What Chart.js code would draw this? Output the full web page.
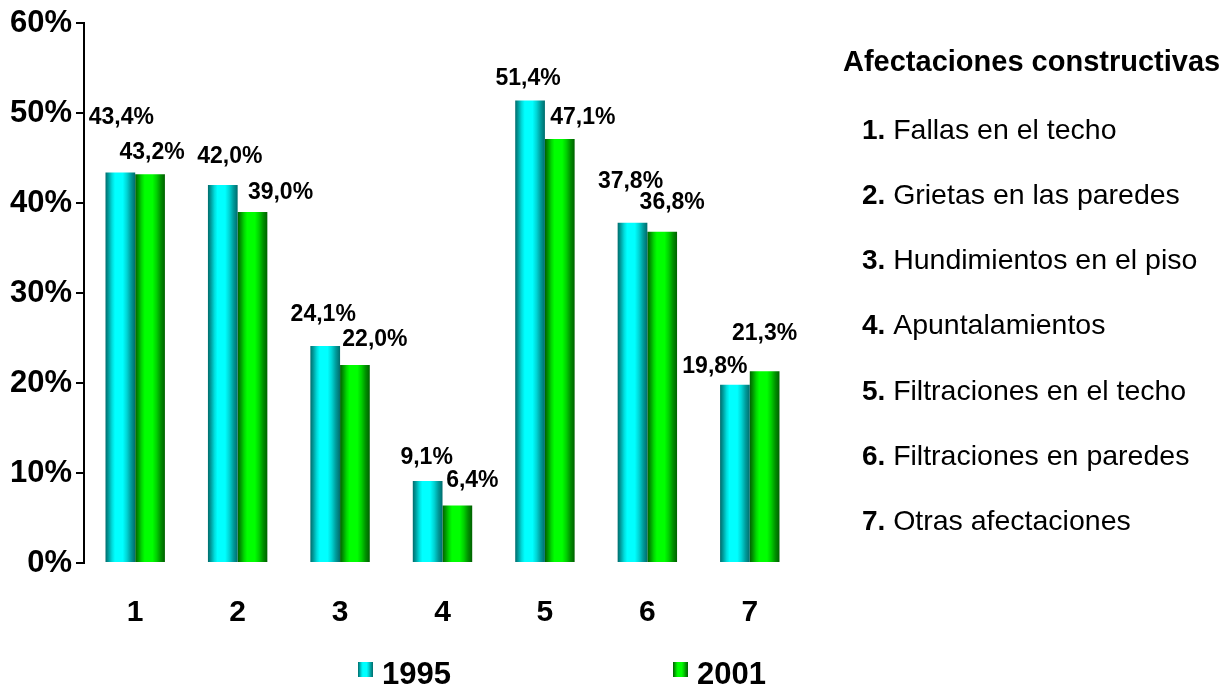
<!DOCTYPE html>
<html lang="es">
<head>
<meta charset="utf-8">
<title>Afectaciones constructivas 1995 - 2001</title>
<script src="https://cdn.jsdelivr.net/npm/chart.js@4.4.1/dist/chart.umd.min.js"></script>
<style>
  html, body { margin: 0; padding: 0; background: #fff; }
  #wrap { width: 1230px; height: 687px; }
</style>
</head>
<body>
<div id="wrap"><canvas id="chart" width="1230" height="687"></canvas></div>
<script>
// Chart data
const categories = ['1', '2', '3', '4', '5', '6', '7'];
const categoryNames = [
    'Fallas en el techo',
    'Grietas en las paredes',
    'Hundimientos en el piso',
    'Apuntalamientos',
    'Filtraciones en el techo',
    'Filtraciones en paredes',
    'Otras afectaciones'
];
const seriesNames = ['1995', '2001'];
const values1995 = [43.4, 42.0, 24.1, 9.1, 51.4, 37.8, 19.8];
const values2001 = [43.2, 39.0, 22.0, 6.4, 47.1, 36.8, 21.3];
const yTicks = [0, 10, 20, 30, 40, 50, 60];
const listTitle = 'Afectaciones constructivas';

const FONT = '"Liberation Sans", Arial, Helvetica, sans-serif';
const CAT_PCT = 0.58;

// Colour stops for the "cylinder" look of each series
const gradientStops = [
    [[0, '#006c6c'], [0.1, '#009c9c'], [0.22, '#00dcdc'], [0.32, '#00ffff'], [0.58, '#00ffff'], [0.72, '#00d4d4'], [0.86, '#009a9a'], [1, '#006c6c']],
    [[0, '#006000'], [0.1, '#009400'], [0.22, '#00d800'], [0.32, '#00ff00'], [0.58, '#00ff00'], [0.72, '#00d000'], [0.86, '#009000'], [1, '#006000']]
];
const flatColors = ['#00e0e0', '#00e000'];

// Label nudges (dx, dy from the top centre of each bar)
const labelNudges = [
    [[1, -55], [7, -28], [-2, -31], [-1, -23], [-2, -22], [-2, -41], [-20, -18]],
    [[2, -22], [28, -19], [20, -25], [15, -25], [23, -21], [10, -29], [0, -38]]
];

const makeGradient = (ctx2d, x0, x1, series) => {
    const g = ctx2d.createLinearGradient(x0, 0, x1, 0);
    gradientStops[series].forEach(([p, c]) => g.addColorStop(p, c));
    return g;
};

// Gradient across the width of one bar, computed from the category scale
const barGradient = (context, series) => {
    const chart = context.chart;
    const xs = chart.scales.x;
    if (context.type !== 'data' || !xs || !chart.chartArea) return flatColors[series];
    const c = xs.getPixelForValue(context.dataIndex);
    const half = (xs.width / categories.length) * CAT_PCT / 2;
    const x0 = series === 0 ? c - half : c;
    return makeGradient(chart.ctx, x0, x0 + half, series);
};

const fmt = v => v.toFixed(1).replace('.', ',') + '%';

// Value labels above the bars
const valueLabels = {
    id: 'valueLabels',
    afterDatasetsDraw(chart) {
        const ctx = chart.ctx;
        ctx.save();
        ctx.font = `bold 23px ${FONT}`;
        ctx.fillStyle = '#000';
        ctx.textAlign = 'center';
        ctx.textBaseline = 'middle';
        chart.data.datasets.forEach((ds, i) => {
            chart.getDatasetMeta(i).data.forEach((el, j) => {
                const [dx, dy] = labelNudges[i][j];
                ctx.fillText(fmt(ds.data[j]), el.x + dx, el.y + dy);
            });
        });
        ctx.restore();
    }
};

// Numbered list on the right and series legend at the bottom
const sideText = {
    id: 'sideText',
    afterDraw(chart) {
        const ctx = chart.ctx;
        ctx.save();
        ctx.fillStyle = '#000';
        ctx.textBaseline = 'middle';
        ctx.textAlign = 'left';

        ctx.font = `bold 29px ${FONT}`;
        ctx.fillText(listTitle, 843, 63);

        categoryNames.forEach((name, i) => {
            const y = 131 + i * 65.2;
            const num = categories[i] + '. ';
            ctx.font = `bold 28px ${FONT}`;
            ctx.fillText(num, 862, y);
            const w = ctx.measureText(num).width;
            ctx.font = `28.5px ${FONT}`;
            ctx.fillText(name, 862 + w, y);
        });

        const legendX = [358, 673];
        seriesNames.forEach((name, i) => {
            const x = legendX[i];
            ctx.fillStyle = makeGradient(ctx, x, x + 15, i);
            ctx.fillRect(x, 662, 15, 15);
            ctx.fillStyle = '#000';
            ctx.font = `bold 31px ${FONT}`;
            ctx.fillText(name, x + 24, 675);
        });
        ctx.restore();
    }
};

const setup = () => {
    const ctx = document.getElementById('chart').getContext('2d');
    new Chart(ctx, {
        type: 'bar',
        data: {
            labels: categories,
            datasets: [
                {
                    label: seriesNames[0],
                    data: values1995,
                    backgroundColor: c => barGradient(c, 0),
                    categoryPercentage: CAT_PCT,
                    barPercentage: 1.0,
                    borderWidth: 0
                },
                {
                    label: seriesNames[1],
                    data: values2001,
                    backgroundColor: c => barGradient(c, 1),
                    categoryPercentage: CAT_PCT,
                    barPercentage: 1.0,
                    borderWidth: 0
                }
            ]
        },
        options: {
            responsive: false,
            animation: false,
            layout: { padding: { top: 23, right: 429, left: 0, bottom: 0 } },
            plugins: {
                legend: { display: false },
                tooltip: { enabled: false }
            },
            scales: {
                x: {
                    afterFit: s => { s.height = 124; },
                    border: { display: false },
                    grid: { display: false, drawTicks: false },
                    ticks: {
                        padding: 32,
                        color: '#000',
                        font: { family: FONT, size: 30, weight: 'bold' }
                    }
                },
                y: {
                    min: 0,
                    max: 60,
                    afterFit: s => { s.width = 84; },
                    afterBuildTicks: s => { s.ticks = yTicks.map(v => ({ value: v })); },
                    border: { display: true, color: '#000', width: 2 },
                    grid: { drawOnChartArea: false, drawTicks: true, tickLength: 8, color: '#000', lineWidth: 2 },
                    ticks: {
                        padding: 4,
                        color: '#000',
                        font: { family: FONT, size: 31, weight: 'bold' },
                        callback: v => v + '%'
                    }
                }
            }
        },
        plugins: [valueLabels, sideText]
    });
};

document.addEventListener('DOMContentLoaded', setup);
</script>
</body>
</html>
